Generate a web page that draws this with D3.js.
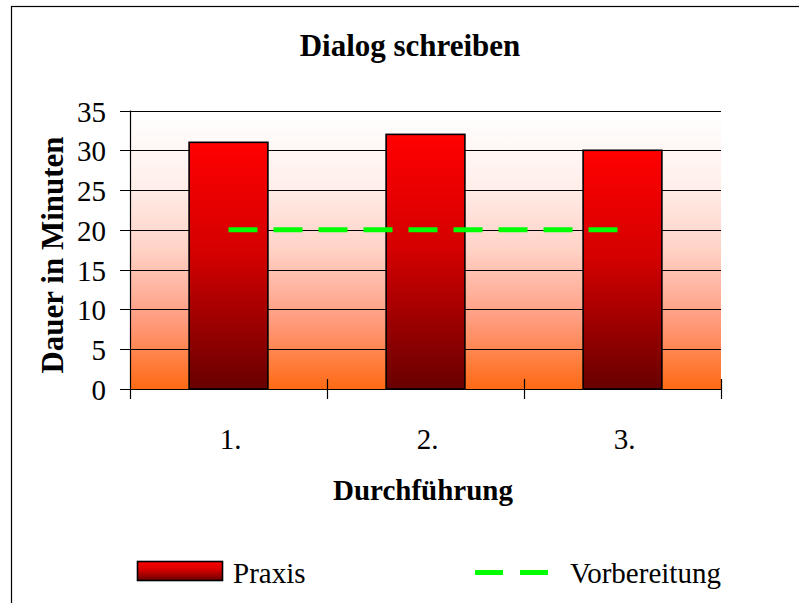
<!DOCTYPE html>
<html>
<head>
<meta charset="utf-8">
<script src="https://cdn.jsdelivr.net/npm/d3@7"></script>
<style>
  html, body { margin: 0; padding: 0; background: #fff; }
  svg { display: block; }
  text { font-family: "Liberation Serif", "Times New Roman", serif; fill: #000; }
</style>
</head>
<body>
<svg id="chart" width="799" height="603"></svg>
<script>
// ---- data ----
const categories = ["1.", "2.", "3."];
const praxis = [31, 32, 30];
const vorbereitung = [20, 20, 20];
const yTicks = [0, 5, 10, 15, 20, 25, 30, 35];
const title = "Dialog schreiben";
const xTitle = "Durchführung";
const yTitle = "Dauer in Minuten";
const seriesNames = ["Praxis", "Vorbereitung"];

// ---- layout ----
const W = 799, H = 603;
const plot = { left: 130, right: 721, top: 110.5, bottom: 389 };

const svg = d3.select("#chart");
const defs = svg.append("defs");

const bg = defs.append("linearGradient").attr("id", "bgGrad")
  .attr("x1", 0).attr("y1", 0).attr("x2", 0).attr("y2", 1);
[["0%", "#ffffff"], ["25%", "#fff0ec"], ["50%", "#ffd2c6"], ["75%", "#ff9c80"], ["100%", "#ff6a14"]]
  .forEach(([o, c]) => bg.append("stop").attr("offset", o).attr("stop-color", c));

const barG = defs.append("linearGradient").attr("id", "barGrad")
  .attr("x1", 0).attr("y1", 0).attr("x2", 0).attr("y2", 1);
[["0%", "#ff0000"], ["45%", "#d40000"], ["100%", "#680000"]]
  .forEach(([o, c]) => barG.append("stop").attr("offset", o).attr("stop-color", c));

// outer border (extends beyond right/bottom edges)
svg.append("rect")
  .attr("x", 11.5).attr("y", 6.5).attr("width", W + 20).attr("height", H + 20)
  .attr("fill", "none").attr("stroke", "#000").attr("stroke-width", 1.2);

// scales
const x = d3.scaleBand().domain(categories).range([plot.left, plot.right])
  .paddingInner(0.6).paddingOuter(0.3);
const xc = d3.scaleBand().domain(categories).range([plot.left, plot.right]).padding(0);
const y = d3.scaleLinear().domain([0, 35]).range([plot.bottom, plot.top]);

// plot background
svg.append("rect")
  .attr("x", plot.left).attr("y", plot.top)
  .attr("width", plot.right - plot.left).attr("height", plot.bottom - plot.top)
  .attr("fill", "url(#bgGrad)");

// gridlines
svg.append("g").selectAll("line").data(yTicks.filter(d => d > 0)).join("line")
  .attr("x1", plot.left - 10).attr("x2", plot.right)
  .attr("y1", d => Math.round(y(d)) + 0.5).attr("y2", d => Math.round(y(d)) + 0.5)
  .attr("stroke", "#000").attr("stroke-width", 1);

// y tick labels
svg.append("g").selectAll("text").data(yTicks).join("text")
  .attr("x", 106).attr("y", d => y(d) + 11)
  .attr("text-anchor", "end")
  .attr("font-size", 29)
  .text(d => d);

// bars
svg.append("g").selectAll("rect").data(praxis).join("rect")
  .attr("x", (d, i) => x(categories[i]))
  .attr("y", d => y(d))
  .attr("width", x.bandwidth())
  .attr("height", d => y(0) - y(d))
  .attr("fill", "url(#barGrad)")
  .attr("stroke", "#000").attr("stroke-width", 1.6);

// axes lines
svg.append("line")
  .attr("x1", plot.left + 0.5).attr("x2", plot.left + 0.5)
  .attr("y1", plot.top).attr("y2", plot.bottom + 10)
  .attr("stroke", "#000").attr("stroke-width", 1.2);
svg.append("line")
  .attr("x1", plot.left - 10).attr("x2", plot.right)
  .attr("y1", plot.bottom + 0.5).attr("y2", plot.bottom + 0.5)
  .attr("stroke", "#000").attr("stroke-width", 1.2);
// x ticks at band boundaries
const bounds = categories.map(c => xc(c)).concat([xc(categories[categories.length - 1]) + xc.bandwidth()]);
svg.append("g").selectAll("line").data(bounds.slice(1)).join("line")
  .attr("x1", d => Math.round(d) + 0.5).attr("x2", d => Math.round(d) + 0.5)
  .attr("y1", plot.bottom - 10).attr("y2", plot.bottom + 10)
  .attr("stroke", "#000").attr("stroke-width", 1.2);

// Vorbereitung dashed line
const line = d3.line()
  .x((d, i) => xc(categories[i]) + xc.bandwidth() / 2)
  .y(d => y(d));
svg.append("path")
  .datum(vorbereitung)
  .attr("d", line)
  .attr("fill", "none")
  .attr("stroke", "#00ff00")
  .attr("stroke-width", 5)
  .attr("stroke-dasharray", "29,16");

// x tick labels
svg.append("g").selectAll("text").data(categories).join("text")
  .attr("x", d => xc(d) + xc.bandwidth() / 2 + 2)
  .attr("y", 449)
  .attr("text-anchor", "middle")
  .attr("font-size", 29)
  .text(d => d);

// titles
svg.append("text").attr("x", 410).attr("y", 56)
  .attr("text-anchor", "middle").attr("font-size", 31).attr("font-weight", "bold")
  .text(title);
svg.append("text").attr("x", 423).attr("y", 500)
  .attr("text-anchor", "middle").attr("font-size", 29).attr("font-weight", "bold")
  .text(xTitle);
svg.append("text")
  .attr("transform", "translate(63,255) rotate(-90)")
  .attr("text-anchor", "middle").attr("font-size", 31).attr("font-weight", "bold")
  .text(yTitle);

// legend
const lg = svg.append("g");
lg.append("rect").attr("x", 137.5).attr("y", 561.5).attr("width", 85).attr("height", 19)
  .attr("fill", "url(#barGrad)").attr("stroke", "#000").attr("stroke-width", 1.6);
lg.append("text").attr("x", 233).attr("y", 583).attr("font-size", 29).text(seriesNames[0]);
lg.append("line").attr("x1", 475).attr("x2", 549).attr("y1", 572.5).attr("y2", 572.5)
  .attr("stroke", "#00ff00").attr("stroke-width", 5).attr("stroke-dasharray", "28,17");
lg.append("text").attr("x", 570).attr("y", 583).attr("font-size", 29).text(seriesNames[1]);
</script>
</body>
</html>
